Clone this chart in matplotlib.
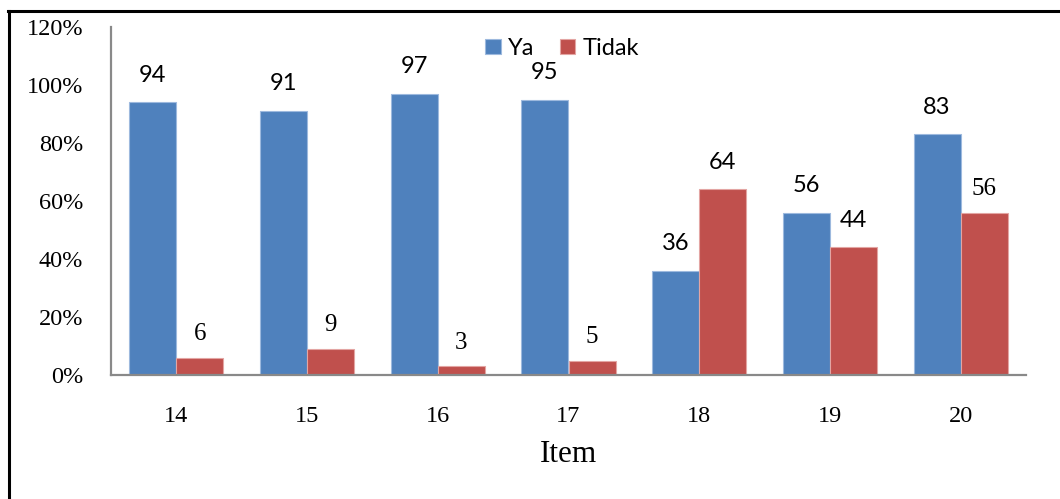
import numpy as np
import matplotlib
matplotlib.use('Agg')
from matplotlib import pyplot as plt
from matplotlib.lines import Line2D
from matplotlib.ticker import PercentFormatter

# survey answers per item, in percent
items = ['14', '15', '16', '17', '18', '19', '20']
ya = [94, 91, 97, 95, 36, 56, 83]
tidak = [6, 9, 3, 5, 64, 44, 56]

blue = '#4F81BD'
red = '#C0504D'
sans = 'Lato'
serif = 'Liberation Serif'
# the Tidak labels were typed in two different fonts
tidak_fonts = [serif, serif, serif, serif, sans, sans, serif]

fig = plt.figure(figsize=(10.6, 4.99), dpi=100)
ax = fig.add_axes([111/1060, 1-375/499, (1026-111)/1060, (375-27)/499])

x = np.arange(len(items))
w = 0.36
b1 = ax.bar(x - w/2, ya, w, color=blue, edgecolor='#9DB9DE', linewidth=0.8, label='Ya')
b2 = ax.bar(x + w/2, tidak, w, color=red, edgecolor='#E3A5A3', linewidth=0.8, label='Tidak')

for rect, v in zip(b1, ya):
    ax.annotate(str(v), (rect.get_x() + rect.get_width()/2, v), xytext=(0, 12),
                textcoords='offset points', ha='center', va='bottom',
                fontsize=17, family=sans, color='black')
for rect, v, f in zip(b2, tidak, tidak_fonts):
    serif_lab = f == serif
    ax.annotate(str(v), (rect.get_x() + rect.get_width()/2, v),
                xytext=(0, 9 if serif_lab else 12),
                textcoords='offset points', ha='center', va='bottom',
                fontsize=18 if serif_lab else 17, family=f, color='black')

ax.set_xlim(-0.5, len(items) - 0.5)
ax.set_ylim(0, 120)
ax.set_yticks(np.arange(0, 121, 20))
ax.yaxis.set_major_formatter(PercentFormatter(decimals=0))
ax.set_xticks(x)
ax.set_xticklabels(items)

for lab in ax.get_xticklabels() + ax.get_yticklabels():
    lab.set_family(serif)
    lab.set_fontsize(17.5)
ax.tick_params(axis='x', length=0, pad=22)
ax.tick_params(axis='y', length=0, pad=20)

for s in ['top', 'right']:
    ax.spines[s].set_visible(False)
for s in ['left', 'bottom']:
    ax.spines[s].set_color('#898989')
    ax.spines[s].set_linewidth(1.6)

ax.set_xlabel('Item', family=serif, fontsize=22.5, labelpad=10)

leg = ax.legend(loc='upper center', bbox_to_anchor=(0.493, 1.01), ncol=2, frameon=False,
                prop={'family': sans, 'size': 17}, handlelength=0.65, handleheight=0.65,
                handletextpad=0.3, columnspacing=1.1, borderaxespad=0.2)

# frame around the picture (top and left only)
fig.add_artist(Line2D([8.5/1060, 8.5/1060], [0, 1 - 10.5/499], color='black', linewidth=2.2,
                      transform=fig.transFigure))
fig.add_artist(Line2D([7.5/1060, 1.0], [1 - 10.5/499, 1 - 10.5/499], color='black', linewidth=2.2,
                      transform=fig.transFigure))

fig.savefig('out.png', dpi=100, facecolor='white')
